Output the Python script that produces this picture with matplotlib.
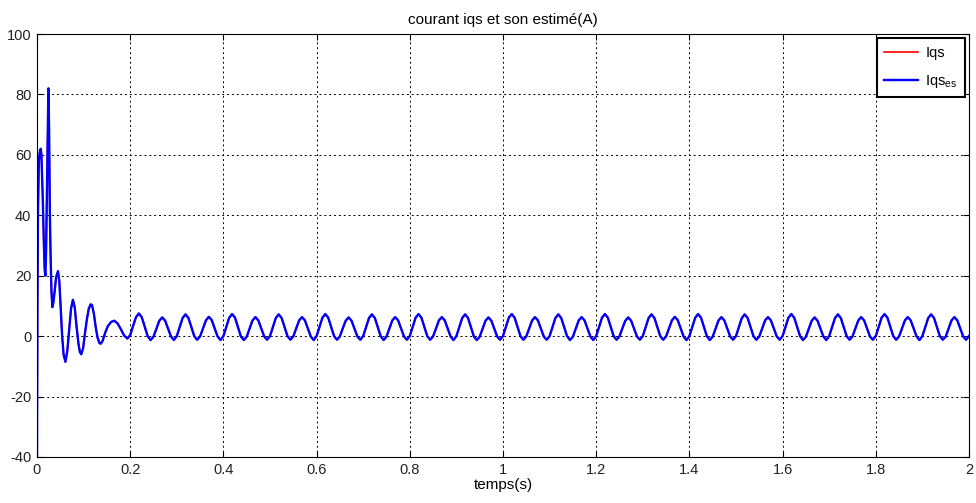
import numpy as np
import matplotlib
matplotlib.use("Agg")
import matplotlib.pyplot as plt

plt.rcParams['font.family'] = ['Liberation Sans', 'DejaVu Sans']
plt.rcParams['mathtext.fontset'] = 'custom'
plt.rcParams['mathtext.rm'] = 'Liberation Sans'
plt.rcParams['mathtext.it'] = 'Liberation Sans'
plt.rcParams['mathtext.default'] = 'regular'
plt.rcParams['axes.unicode_minus'] = False

# --- start-up transient (t in s, iqs in A) ---
t_trans = [0.0, 0.001, 0.002, 0.004, 0.006, 0.008, 0.0095, 0.011, 0.0125, 0.0145,
           0.0165, 0.018, 0.0195, 0.021, 0.023, 0.0245, 0.026, 0.0275, 0.029, 0.031,
           0.033, 0.035, 0.038, 0.041, 0.045, 0.048, 0.051, 0.054, 0.057, 0.061,
           0.065, 0.069, 0.073, 0.077, 0.081, 0.085, 0.089, 0.092, 0.095, 0.099,
           0.103, 0.107, 0.111, 0.115, 0.118, 0.122, 0.126, 0.130, 0.134, 0.137,
           0.141, 0.146, 0.152, 0.159, 0.166, 0.173, 0.180, 0.187, 0.194]
iqs_trans = [-40.0, 12.0, 40.0, 58.0, 61.0, 62.0, 60.0, 53.0, 45.0, 32.0,
             22.0, 20.0, 28.0, 45.0, 70.0, 82.0, 68.0, 42.0, 28.0, 15.0,
             9.6, 11.0, 15.0, 19.5, 21.5, 18.0, 9.0, 0.0, -6.0, -8.5,
             -5.0, 2.0, 9.0, 12.0, 9.5, 3.0, -2.5, -5.2, -6.0, -4.0,
             1.0, 5.5, 9.0, 10.5, 10.3, 7.5, 3.0, -0.5, -2.3, -2.5,
             -1.5, 1.0, 3.3, 4.7, 5.1, 4.2, 2.3, 0.2, -0.8]

# --- steady state from 0.2 s to 2 s, one row per 0.05 s period (8 samples each) ---
iqs_rows = [
    [0.3, 3.4, 6.3, 7.5, 6.2, 3.1, 0.0, -1.3],
    [-0.2, 2.5, 5.1, 6.2, 5.1, 2.5, -0.1, -1.3],
    [0.0, 3.0, 6.0, 7.2, 6.0, 3.0, 0.0, -1.2],
    [-0.1, 2.6, 5.2, 6.4, 5.3, 2.6, -0.1, -1.3],
    [0.0, 3.0, 6.1, 7.3, 6.1, 3.0, -0.1, -1.3],
    [-0.2, 2.5, 5.2, 6.3, 5.2, 2.6, -0.1, -1.2],
    [0.0, 3.0, 6.0, 7.2, 6.0, 3.0, 0.0, -1.2],
    [-0.1, 2.6, 5.2, 6.3, 5.2, 2.6, -0.1, -1.3],
    [0.0, 3.0, 6.1, 7.3, 6.1, 3.0, 0.0, -1.2],
    [-0.1, 2.6, 5.1, 6.2, 5.1, 2.5, -0.1, -1.2],
    [0.0, 3.0, 6.0, 7.2, 6.0, 3.0, 0.0, -1.3],
    [-0.2, 2.5, 5.2, 6.3, 5.2, 2.6, -0.1, -1.2],
    [0.0, 3.0, 6.1, 7.3, 6.1, 3.0, 0.0, -1.2],
    [-0.1, 2.6, 5.2, 6.3, 5.2, 2.6, -0.1, -1.3],
    [0.0, 3.0, 6.0, 7.2, 6.0, 3.0, -0.1, -1.3],
    [-0.2, 2.5, 5.1, 6.2, 5.1, 2.5, -0.1, -1.2],
    [0.0, 3.0, 6.1, 7.3, 6.1, 3.0, 0.0, -1.2],
    [-0.1, 2.6, 5.2, 6.3, 5.2, 2.6, -0.1, -1.2],
    [0.0, 3.0, 6.0, 7.2, 6.0, 3.0, 0.0, -1.3],
    [-0.2, 2.5, 5.2, 6.3, 5.2, 2.6, -0.1, -1.3],
    [0.0, 3.0, 6.1, 7.3, 6.1, 3.0, 0.0, -1.2],
    [-0.1, 2.6, 5.1, 6.2, 5.1, 2.5, -0.1, -1.2],
    [0.0, 3.0, 6.0, 7.2, 6.0, 3.0, 0.0, -1.2],
    [-0.1, 2.6, 5.2, 6.4, 5.3, 2.6, -0.1, -1.3],
    [0.0, 3.0, 6.1, 7.3, 6.1, 3.0, 0.0, -1.3],
    [-0.2, 2.5, 5.2, 6.3, 5.2, 2.6, -0.1, -1.2],
    [0.0, 3.0, 6.0, 7.2, 6.0, 3.0, 0.0, -1.2],
    [-0.1, 2.6, 5.2, 6.3, 5.2, 2.6, -0.1, -1.2],
    [0.0, 3.0, 6.1, 7.3, 6.1, 3.0, 0.0, -1.3],
    [-0.2, 2.5, 5.1, 6.2, 5.1, 2.5, -0.1, -1.3],
    [0.0, 3.0, 6.0, 7.2, 6.0, 3.0, 0.0, -1.2],
    [-0.1, 2.6, 5.2, 6.3, 5.2, 2.6, -0.1, -1.2],
    [0.0, 3.0, 6.1, 7.3, 6.1, 3.0, 0.0, -1.2],
    [-0.1, 2.6, 5.2, 6.3, 5.2, 2.6, -0.1, -1.3],
    [0.0, 3.0, 6.0, 7.2, 6.0, 3.0, 0.0, -1.2],
    [-0.2, 2.5, 5.2, 6.3, 5.2, 2.6, -0.1, -1.2],
]
iqs_end = 0.0  # value at t = 2 s

x_ticks = [0, 0.2, 0.4, 0.6, 0.8, 1.0, 1.2, 1.4, 1.6, 1.8, 2.0]
x_labels = ['0', '0.2', '0.4', '0.6', '0.8', '1', '1.2', '1.4', '1.6', '1.8', '2']
y_ticks = [-40, -20, 0, 20, 40, 60, 80, 100]

# build the full series
iqs_steady = [v for row in iqs_rows for v in row] + [iqs_end]
t_steady = np.linspace(0.2, 2.0, len(iqs_steady))
t = np.concatenate([t_trans, t_steady])
iqs = np.concatenate([iqs_trans, iqs_steady])
iqs_es = iqs.copy()  # estimate sits on top of the measured current

fig = plt.figure(figsize=(9.76, 5.03), dpi=100)
ax = fig.add_axes([0.0379, 0.0915, 0.9549, 0.8409])

ax.plot(t, iqs, color='red', lw=1.2, label='Iqs')
ax.plot(t, iqs_es, color='blue', lw=1.7, label='Iqs$_{es}$')

ax.set_xlim(0, 2)
ax.set_ylim(-40, 100)
ax.set_xticks(x_ticks)
ax.set_xticklabels(x_labels)
ax.set_yticks(y_ticks)
ax.tick_params(direction='in', top=True, right=True, length=4, labelsize=10.5,
               pad=4, labelcolor='#222222')
ax.grid(True, color='k', linestyle=(0, (2, 3)), linewidth=0.7)
for s in ax.spines.values():
    s.set_linewidth(0.8)

ax.set_title('courant iqs et son estimé(A)', fontsize=11, pad=7)
ax.set_xlabel('temps(s)', fontsize=11, labelpad=1)

leg = ax.legend(loc='upper right', fontsize=10.5, fancybox=False, edgecolor='k',
                framealpha=1, borderaxespad=0.3, handlelength=2.3,
                handletextpad=0.5, labelspacing=0.9, borderpad=0.5)
leg.get_frame().set_linewidth(1.5)

fig.savefig('out.png', dpi=100)
